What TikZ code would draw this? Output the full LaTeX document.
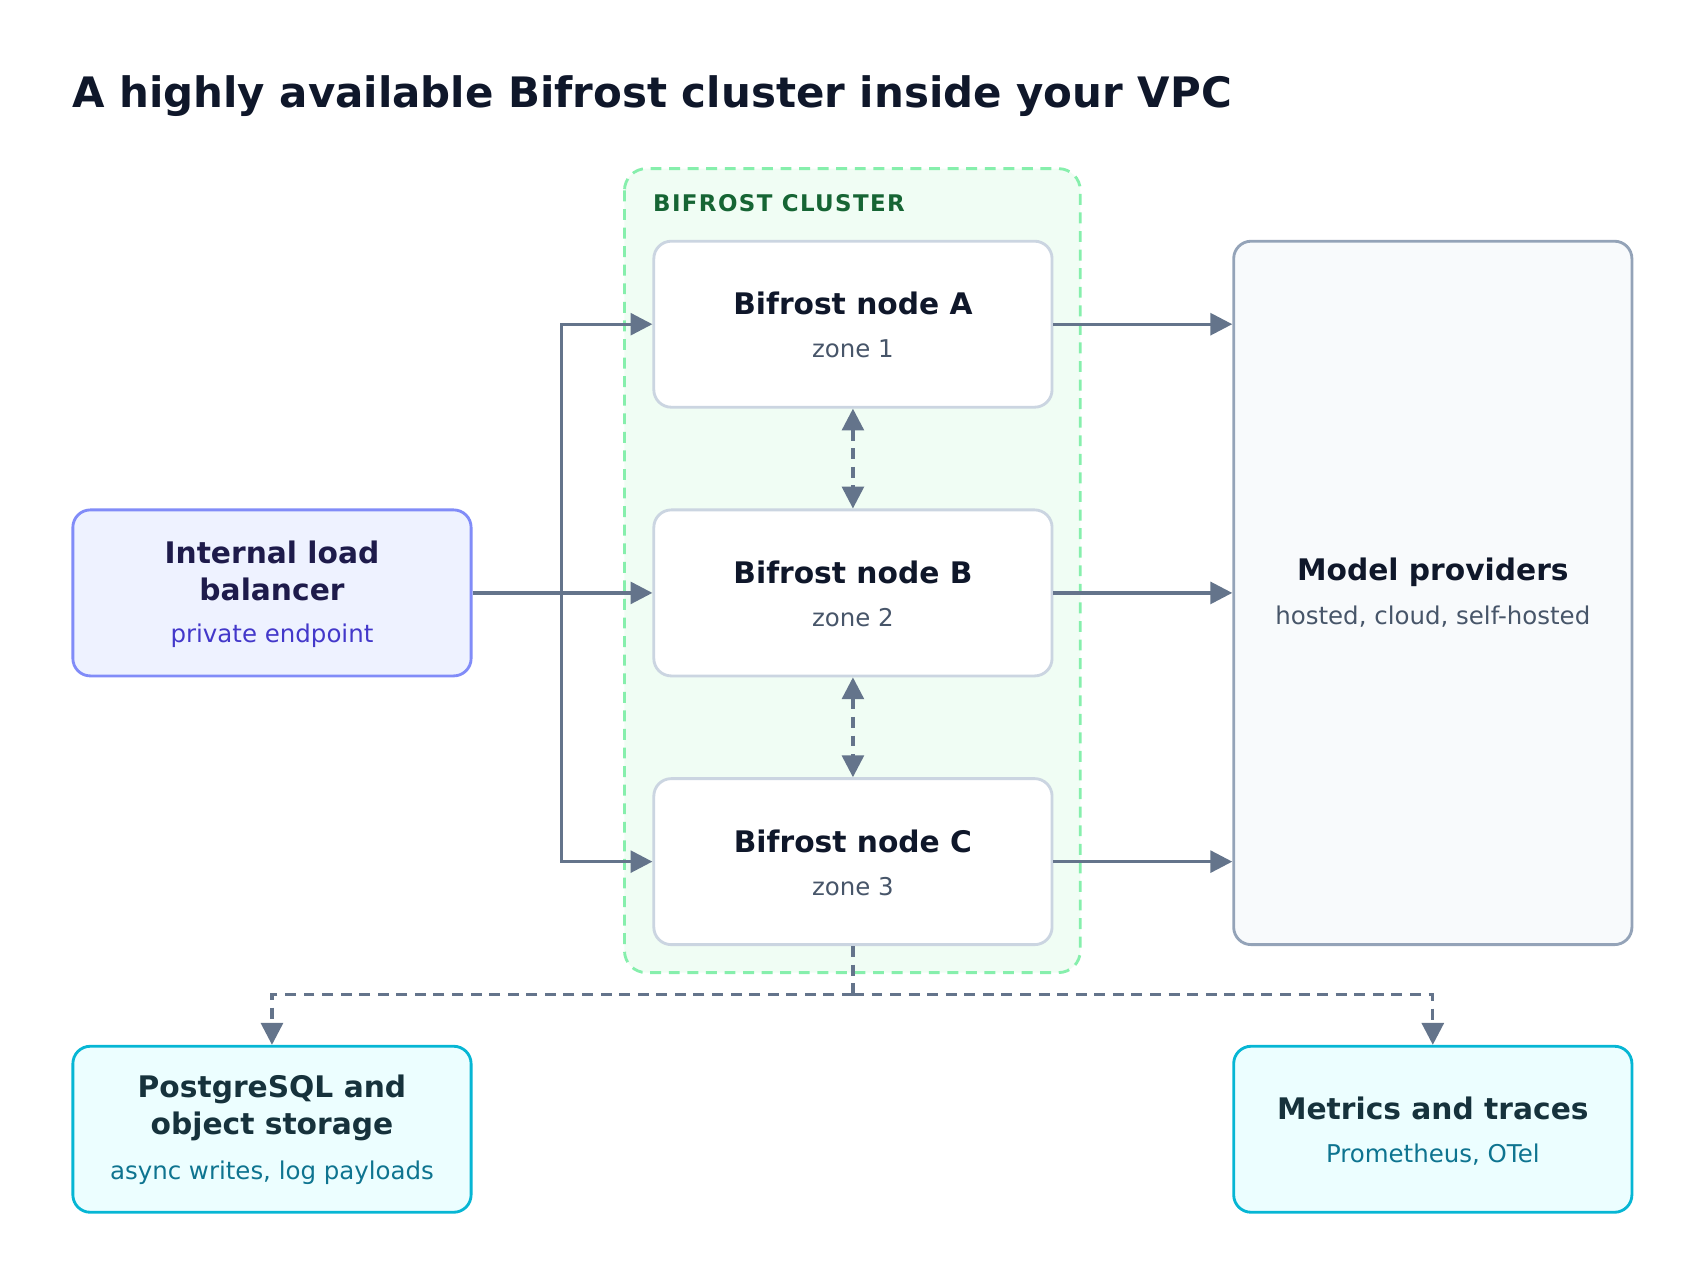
\documentclass[tikz,border=0pt]{standalone}
\usepackage{fontspec}
\setmainfont{DejaVu Sans}
\usetikzlibrary{arrows.meta}
\definecolor{ink}{HTML}{0F172A}
\definecolor{arr}{HTML}{64748B}
\definecolor{sub}{HTML}{475569}
\begin{document}
\begin{tikzpicture}[x=0.498pt,y=-0.498pt,
  box/.style={draw,rounded corners=8pt,line width=1.3pt,minimum width=182.3pt,minimum height=76pt,inner sep=0pt},
  nodebox/.style={box,draw={rgb,255:red,203;green,213;blue,225},fill=white},
  cyanbox/.style={box,draw={rgb,255:red,6;green,182;blue,212},fill={rgb,255:red,236;green,254;blue,255}},
  ttl/.style={font=\bfseries\fontsize{13.6}{17}\selectfont,text=ink,align=center},
  st/.style={font=\fontsize{11.2}{13}\selectfont,text=sub},
  con/.style={draw=arr,line width=1.5pt,-{Triangle[length=10pt,width=10pt]}},
  dsh/.style={dash pattern=on 5pt off 3.5pt},
  dcon/.style={con,dsh}]
\useasboundingbox (0,0) rectangle (1566.3,1180.7);
\node[anchor=base west,inner sep=0pt,font=\bfseries\fontsize{19.2}{24}\selectfont,text=ink] (title) at (66,99) {A highly available Bifrost cluster inside your VPC};
\draw[draw={rgb,255:red,134;green,239;blue,172},fill={rgb,255:red,240;green,253;blue,244},line width=1.3pt,dsh,rounded corners=10pt] (574,155) rectangle (993,894);
\node[anchor=base west,inner sep=0pt,font=\bfseries\fontsize{10.5}{12}\selectfont\addfontfeatures{LetterSpace=6},text={rgb,255:red,22;green,101;blue,52}] (cl) at (600,194) {BIFROST CLUSTER};
\foreach \n/\y/\z in {A/298/1,B/545/2,C/792/3}{
  \node[nodebox] (n\n) at (784,\y) {};
  \node[ttl] at (784,\y-19) {Bifrost node \n};
  \node[st] at (784,\y+23) {zone \z};
}
\node[box,draw={rgb,255:red,129;green,140;blue,248},fill={rgb,255:red,238;green,242;blue,255}] (lb) at (250,545) {};
\node[ttl,text={rgb,255:red,30;green,27;blue,75}] at (250,525) {Internal load\\balancer};
\node[st,text={rgb,255:red,67;green,56;blue,202}] at (250,584) {private endpoint};
\node[box,draw={rgb,255:red,148;green,163;blue,184},fill={rgb,255:red,248;green,250;blue,252},minimum height=322pt] (mp) at (1317,545) {};
\node[ttl] at (1317,526) {Model providers};
\node[st] at (1317,567) {hosted, cloud, self-hosted};
\node[cyanbox] (pg) at (250,1038) {};
\node[ttl,text={rgb,255:red,22;green,50;blue,60}] at (250,1018) {PostgreSQL and\\object storage};
\node[st,text={rgb,255:red,14;green,116;blue,144}] at (250,1078) {async writes, log payloads};
\node[cyanbox] (mt) at (1317,1038) {};
\node[ttl,text={rgb,255:red,22;green,50;blue,60}] at (1317,1019) {Metrics and traces};
\node[st,text={rgb,255:red,14;green,116;blue,144}] at (1317,1061) {Prometheus, OTel};
\coordinate (tr) at (516,545);
\draw[con] (lb.east) -- (nB.west);
\draw[con] (tr) |- (nA.west);
\draw[con] (tr) |- (nC.west);
\draw[con] (nA.east) -- (nA.east -| mp.west);
\draw[con] (nB.east) -- (mp.west);
\draw[con] (nC.east) -- (nC.east -| mp.west);
\draw[dcon,{Triangle[length=10pt,width=10pt]}-{Triangle[length=10pt,width=10pt]}] (nA.south) -- (nB.north);
\draw[dcon,{Triangle[length=10pt,width=10pt]}-{Triangle[length=10pt,width=10pt]}] (nB.south) -- (nC.north);
\coordinate (j) at (784,914);
\draw[draw=arr,line width=1.5pt,dsh] (nC.south) -- (j);
\draw[dcon] (j) -| (pg.north);
\draw[dcon] (j) -| (mt.north);
\end{tikzpicture}
\end{document}
